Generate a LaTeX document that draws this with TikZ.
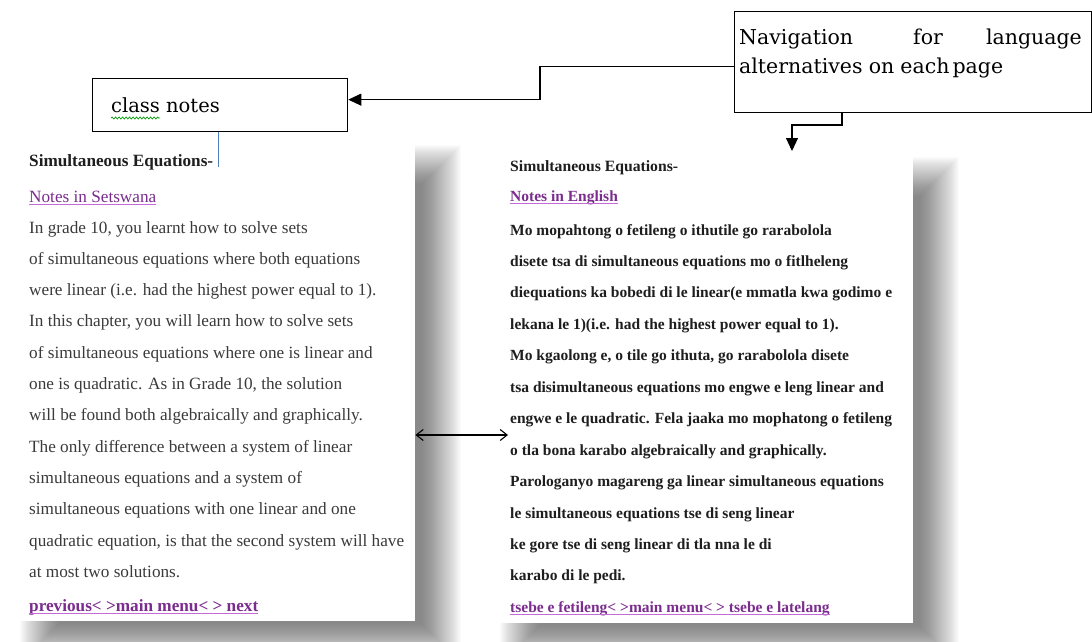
\documentclass[tikz,border=0pt]{standalone}
\usepackage{fontspec}
\setmainfont{Liberation Serif}
\newfontfamily\navfont{DejaVu Serif}
\usetikzlibrary{arrows.meta,decorations.pathmorphing,calc}
\definecolor{linkpurple}{HTML}{7B2C8E}
\definecolor{linkline}{HTML}{C36AD6}
\definecolor{bodygray}{HTML}{3A3A3A}
\definecolor{bolddark}{HTML}{1E1E1E}
\definecolor{cursorblue}{HTML}{4F81BD}
\tikzset{
  callout/.style={draw=black, line width=1.3pt, fill=white, inner sep=0pt, anchor=north west},
  pagebox/.style={fill=white, draw=none, inner sep=0pt, anchor=north west},
  shadowlayer/.style={fill=black, fill opacity=0.016, draw=none},
  arrowline/.style={draw=black, line width=1.1pt, -{Triangle[length=13pt,width=12pt]}},
  twoway/.style={draw=black, line width=1.1pt, {Straight Barb[length=7pt,width=11pt]}-{Straight Barb[length=7pt,width=11pt]}},
  ltext/.style={anchor=base west, inner sep=0pt, text=bodygray, font=\fontsize{17.2}{20}\selectfont},
  lhead/.style={anchor=base west, inner sep=0pt, text=bolddark, font=\fontsize{17.2}{20}\selectfont\bfseries},
  rtext/.style={anchor=base west, inner sep=0pt, text=bolddark, font=\fontsize{15.5}{18}\selectfont\bfseries},
  lnk/.style={anchor=base west, inner sep=0pt, text=linkpurple},
  ulline/.style={draw=linkline, line width=0.9pt},
  navtext/.style={anchor=base west, inner sep=0pt, font=\navfont\fontsize{19.5}{22}\selectfont},
}
\begin{document}
\begin{tikzpicture}[x=1pt, y=-1pt]
\useasboundingbox (0,0) rectangle (1092,642);

% soft page shadows
\foreach \k in {1,...,40} {
  \fill[shadowlayer] ({60-\k},{185-\k}) rectangle ({421+\k},{623+\k});
  \fill[shadowlayer] ({540-\k},{197-\k}) rectangle ({919+\k},{625+\k});
}

% pages
\node[pagebox, minimum width=395pt, minimum height=476pt] (leftpage) at (20,145) {};
\node[pagebox, minimum width=413pt, minimum height=466pt] (rightpage) at (500,157) {};

% callout boxes
\node[callout, minimum width=255pt, minimum height=53pt] (classbox) at (92,78) {};
\node[callout, minimum width=357pt, minimum height=101pt] (navbox) at (734,11) {};

% class notes text
\node[navtext] (classtxt) at (111,112) {class notes};
\draw[green!60!black, line width=0.7pt, decorate, decoration={snake, amplitude=1pt, segment length=3.5pt}] (111,118) -- (160,118);

% navigation text
\node[navtext, font=\navfont\fontsize{20.5}{23}\selectfont] (nav1) at (739,45) {Navigation};
\node[navtext, font=\navfont\fontsize{20.5}{23}\selectfont] (nav2) at (913,45) {for};
\node[navtext, font=\navfont\fontsize{20.5}{23}\selectfont, anchor=base east] (nav3) at (1082,45) {language};
\node[navtext, font=\navfont\fontsize{20.5}{23}\selectfont] (nav4) at (739,74) {alternatives\hspace{0.3em}on\hspace{0.3em}each\hspace{0.15em}page};

% left page text
\node[lhead] (lh) at (29,166) {Simultaneous Equations-};
\node[lnk, font=\fontsize{17.2}{20}\selectfont] (llink) at (29,202) {Notes in Setswana};
\draw[ulline] ([yshift=-2.5pt]llink.base west) -- ([yshift=-2.5pt]llink.base east);
\foreach \t [count=\i from 0] in {
  {In grade 10, you learnt how to solve sets},
  {of simultaneous equations where both equations},
  {were linear (i.e. had the highest power equal to 1).},
  {In this chapter, you will learn how to solve sets},
  {of simultaneous equations where one is linear and},
  {one is quadratic. As in Grade 10, the solution},
  {will be found both algebraically and graphically.},
  {The only difference between a system of linear},
  {simultaneous equations and a system of},
  {simultaneous equations with one linear and one},
  {quadratic equation, is that the second system will have},
  {at most two solutions.}}
  \node[ltext] (lline\i) at (29,{233+31.3*\i}) {\t};
\node[lnk, font=\fontsize{17.2}{20}\selectfont\bfseries] (lnav) at (29,611) {previous< >main menu< > next};
\draw[ulline] ([yshift=-2.5pt]lnav.base west) -- ([yshift=-2.5pt]lnav.base east);

% right page text
\node[rtext, font=\fontsize{15.7}{18}\selectfont\bfseries] (rh) at (510,171) {Simultaneous Equations-};
\node[lnk, font=\fontsize{15.5}{18}\selectfont\bfseries] (rlink) at (510,201) {Notes in English};
\draw[ulline] ([yshift=-2.5pt]rlink.base west) -- ([yshift=-2.5pt]rlink.base east);
\foreach \t [count=\i from 0] in {
  {Mo mopahtong o fetileng o ithutile go rarabolola},
  {disete tsa di simultaneous equations mo o fitlheleng},
  {diequations ka bobedi di le linear(e mmatla kwa godimo e},
  {lekana le 1)(i.e. had the highest power equal to 1).},
  {Mo kgaolong e, o tile go ithuta, go rarabolola disete},
  {tsa disimultaneous equations mo engwe e leng linear and},
  {engwe e le quadratic. Fela jaaka mo mophatong o fetileng},
  {o tla bona karabo algebraically and graphically.},
  {Parologanyo magareng ga linear simultaneous equations},
  {le simultaneous equations tse di seng linear},
  {ke gore tse di seng linear di tla nna le di},
  {karabo di le pedi.}}
  \node[rtext] (rline\i) at (510,{235+31.45*\i}) {\t};
\node[lnk, font=\fontsize{15.5}{18}\selectfont\bfseries] (rnav) at (510,612) {tsebe e fetileng< >main menu< > tsebe e latelang};
\draw[ulline] ([yshift=-2.5pt]rnav.base west) -- ([yshift=-2.5pt]rnav.base east);

% connectors
\coordinate (jog) at (540,80);
\draw[arrowline] ([yshift=-4.5pt]navbox.west) -| (jog) |- ([yshift=5.5pt]classbox.east);
\coordinate (d1) at (842,125);
\coordinate (d2) at (792,125);
\coordinate (dtip) at (792,151);
\draw[arrowline] (navbox.south -| d1) -- (d1) -- (d2) -- (dtip);
\coordinate (cursorend) at (218,167);
\draw[cursorblue, line width=0.9pt] (classbox.south -| cursorend) -- (cursorend);
\coordinate (tw) at (508,435);
\draw[twoway] (leftpage.east |- tw) -- (tw);
\end{tikzpicture}
\end{document}
